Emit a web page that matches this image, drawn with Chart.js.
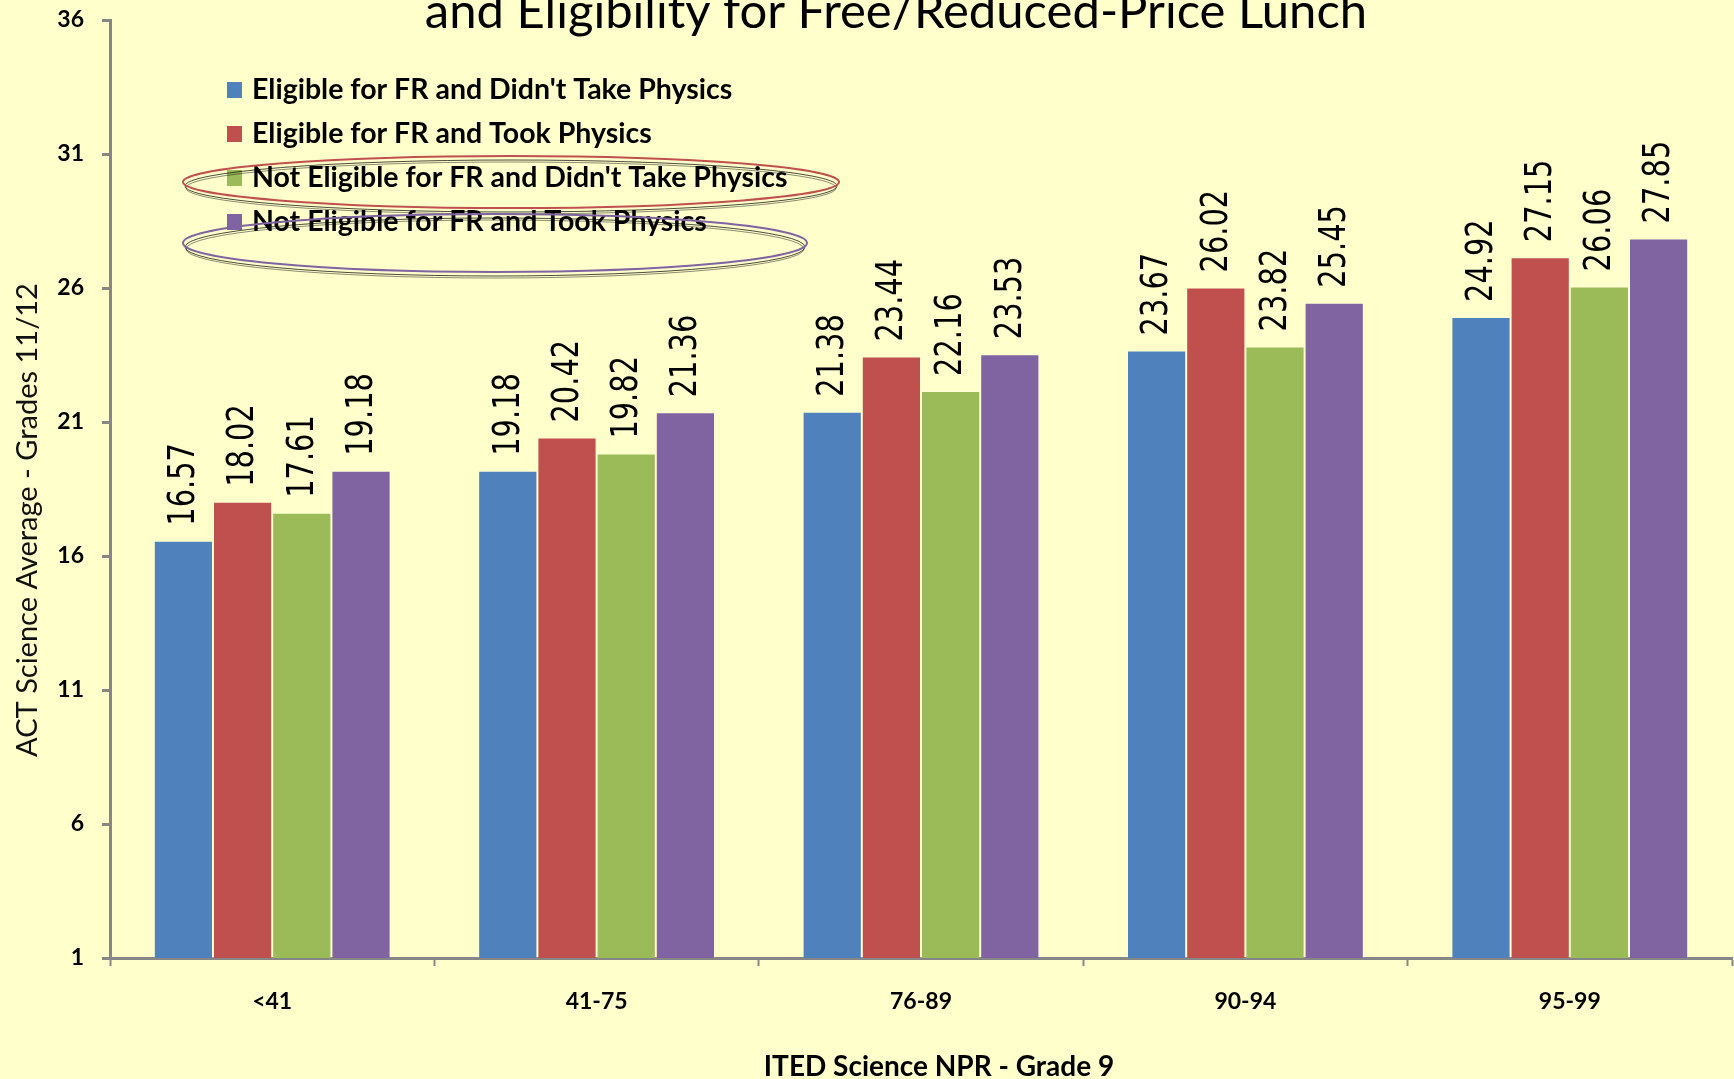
<!DOCTYPE html>
<html>
<head>
<meta charset="utf-8">
<script src="https://cdn.jsdelivr.net/npm/chart.js@4.4.1/dist/chart.umd.min.js"></script>
<style>
html, body { margin: 0; padding: 0; background: #ffffcc; }
#wrap { position: relative; width: 1734px; height: 1079px; }
</style>
</head>
<body>
<div id="wrap"><canvas id="myChart"></canvas></div>
<script>
//Categories on the x axis (ITED percentile bands)
const bands = ['<41', '41-75', '76-89', '90-94', '95-99'];

//Series values
const eligNoPhysics    = [16.57, 19.18, 21.38, 23.67, 24.92];
const eligPhysics      = [18.02, 20.42, 23.44, 26.02, 27.15];
const notEligNoPhysics = [17.61, 19.82, 22.16, 23.82, 26.06];
const notEligPhysics   = [19.18, 21.36, 23.53, 25.45, 27.85];

const seriesNames = [
    "Eligible for FR and Didn't Take Physics",
    "Eligible for FR and Took Physics",
    "Not Eligible for FR and Didn't Take Physics",
    "Not Eligible for FR and Took Physics"
];
const seriesColors = ['#4f81bd', '#c0504d', '#9bbb59', '#8064a2'];

//Y axis runs 1..36 in steps of 5
const yMin = 1;
const yMax = 36;
const yStep = 5;

const chartTitle = 'and Eligibility for Free/Reduced-Price Lunch';
const xTitle = 'ITED Science NPR - Grade 9';
const yTitle = 'ACT Science Average - Grades 11/12';

const seriesValues = [eligNoPhysics, eligPhysics, notEligNoPhysics, notEligPhysics];

const data = {
    labels: bands,
    datasets: seriesValues.map((vals, i) => ({
        label: seriesNames[i],
        data: vals,
        backgroundColor: seriesColors[i],
        borderColor: 'rgba(255,255,255,0.2)',
        borderWidth: 1,
        categoryPercentage: 0.73,
        barPercentage: 1.0
    }))
};

//Draws background, cut-off title, axis titles, legend box, the two hand drawn ellipses and value labels
const decorations = {
    id: 'decorations',
    beforeDraw(chart) {
        const c = chart.ctx;
        c.save();
        c.fillStyle = '#ffffcc';
        c.fillRect(0, 0, chart.width, chart.height);
        c.restore();
    },
    afterDatasetsDraw(chart) {
        const c = chart.ctx;
        c.save();
        c.fillStyle = '#000';
        c.font = '38px "DejaVu Sans"';
        c.textAlign = 'left';
        c.textBaseline = 'middle';
        chart.data.datasets.forEach((ds, i) => {
            chart.getDatasetMeta(i).data.forEach((bar, j) => {
                c.save();
                c.translate(bar.x + 1, bar.y - 15);
                c.rotate(-Math.PI / 2);
                c.scale(0.76, 1);
                c.fillText(ds.data[j].toFixed(2), 0, 0);
                c.restore();
            });
        });
        c.restore();
    },
    afterDraw(chart) {
        const c = chart.ctx;
        c.save();
        //title, first line falls outside the picture
        c.fillStyle = '#000';
        c.font = '49px Lato';
        c.textAlign = 'center';
        c.textBaseline = 'alphabetic';
        c.fillText(chartTitle, 896, 28);

        //x axis title
        c.font = 'bold 28px Lato';
        c.textBaseline = 'middle';
        c.fillText(xTitle, 939, 1067);

        //y axis title
        c.save();
        c.translate(28, 520);
        c.rotate(-Math.PI / 2);
        c.font = '29px Lato';
        c.fillStyle = '#111';
        c.fillText(yTitle, 0, 0);
        c.restore();

        //legend
        c.font = 'bold 28.5px Lato';
        c.textAlign = 'left';
        c.textBaseline = 'middle';
        chart.data.datasets.forEach((ds, i) => {
            const y = 90 + i * 44;
            c.fillStyle = ds.backgroundColor;
            c.fillRect(227, y - 8, 15, 16);
            c.fillStyle = '#000';
            c.fillText(ds.label, 252, y);
        });

        //ellipses around the "Not Eligible" rows
        const rings = [
            {cx: 511, cy: 182, rx: 328, ry: 26, color: '#c0504d'},
            {cx: 495, cy: 243, rx: 312, ry: 29, color: '#8064a2'}
        ];
        rings.forEach(r => {
            c.lineWidth = 1;
            c.strokeStyle = 'rgba(0,0,0,0.7)';
            c.beginPath();
            c.ellipse(r.cx, r.cy + 4, r.rx - 2, r.ry, 0, 0, Math.PI * 2);
            c.stroke();
            c.strokeStyle = 'rgba(0,0,0,0.45)';
            c.beginPath();
            c.ellipse(r.cx, r.cy + 6, r.rx - 3, r.ry, 0, 0, Math.PI * 2);
            c.stroke();
            c.lineWidth = 2;
            c.strokeStyle = r.color;
            c.beginPath();
            c.ellipse(r.cx, r.cy, r.rx, r.ry, 0, 0, Math.PI * 2);
            c.stroke();
        });
        c.restore();
    }
};

const ctx = document.getElementById('myChart').getContext('2d');

const myChart = new Chart(ctx, {
    type: 'bar',
    data: data,
    plugins: [decorations],
    options: {
        responsive: true,
        maintainAspectRatio: false,
        animation: false,
        layout: {
            padding: {top: 20, right: 2, left: 0, bottom: 0}
        },
        scales: {
            x: {
                grid: {
                    display: true,
                    drawOnChartArea: false,
                    drawTicks: true,
                    tickLength: 8,
                    tickWidth: 2,
                    tickColor: '#868686'
                },
                border: {display: true, color: '#868686', width: 3},
                ticks: {
                    color: '#000',
                    padding: 22,
                    font: {family: 'Lato', weight: 'bold', size: 23}
                },
                afterFit(scale) { scale.height = 121; }
            },
            y: {
                min: yMin,
                max: yMax,
                ticks: {
                    stepSize: yStep,
                    color: '#000',
                    padding: 18,
                    font: {family: 'Lato', weight: 'bold', size: 23}
                },
                grid: {
                    display: true,
                    drawOnChartArea: false,
                    drawTicks: true,
                    tickLength: 8,
                    tickWidth: 3,
                    tickColor: '#868686'
                },
                border: {display: true, color: '#868686', width: 3},
                afterFit(scale) {
                    scale.width = 110;
                    scale.paddingTop = 0;
                    scale.paddingBottom = 0;
                }
            }
        },
        plugins: {
            legend: {display: false},
            tooltip: {enabled: false}
        }
    }
});
</script>
</body>
</html>
